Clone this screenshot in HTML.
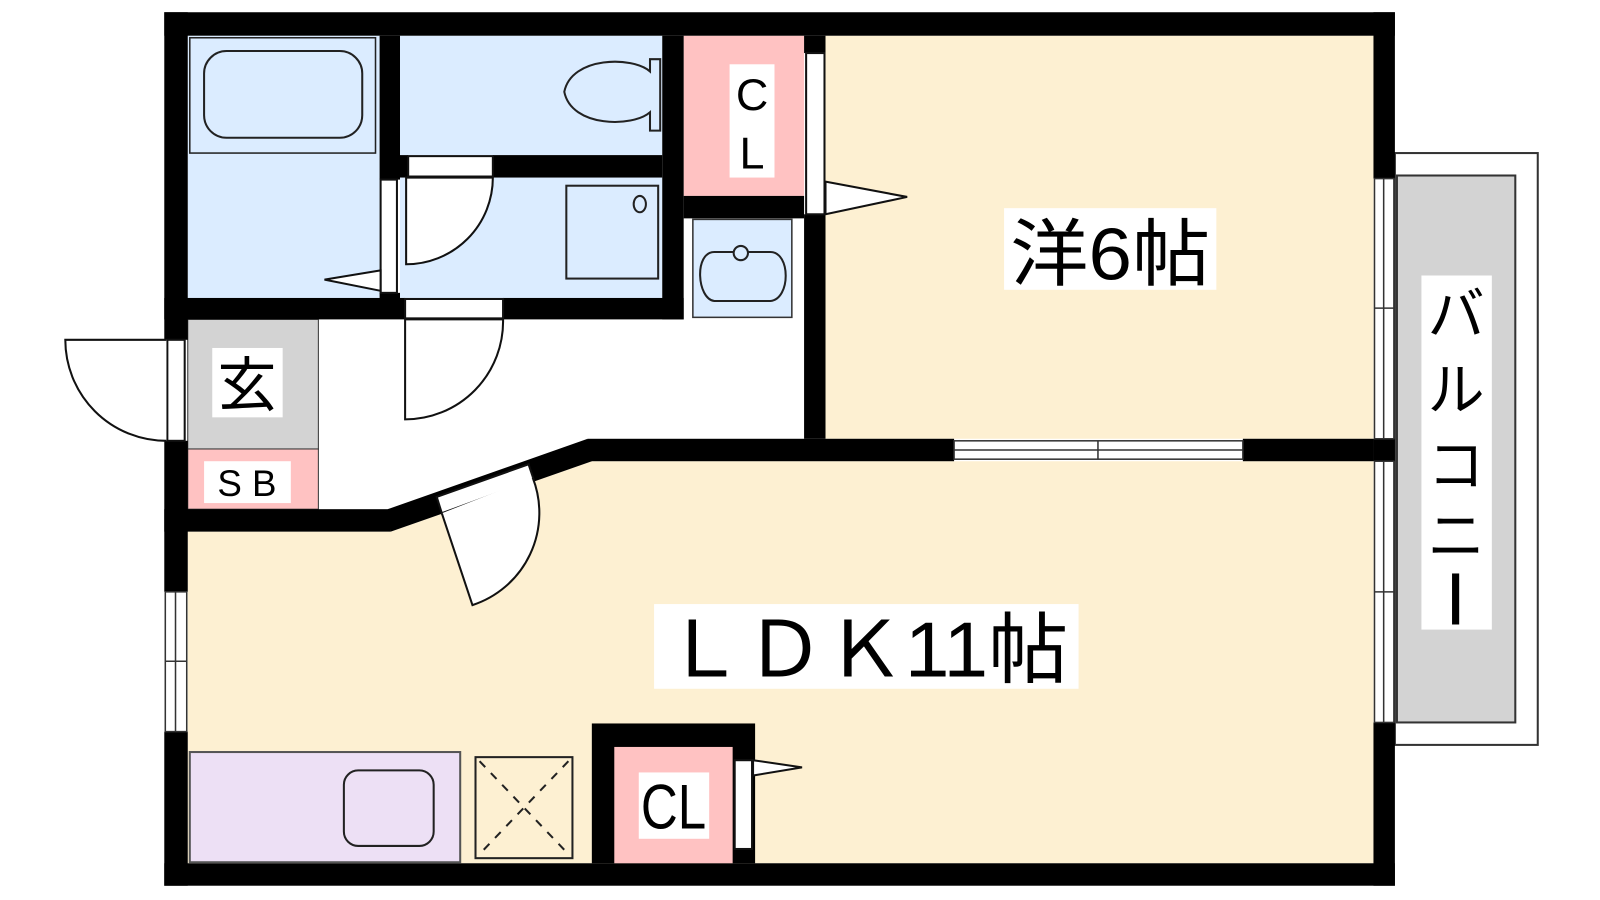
<!DOCTYPE html>
<html><head><meta charset="utf-8"><style>
html,body{margin:0;padding:0;background:#fff;}
svg{display:block;}
text{font-family:"Liberation Sans","Noto Sans CJK JP",sans-serif;}
</style></head><body>
<svg width="1600" height="900" viewBox="0 0 1568 882" preserveAspectRatio="none" xmlns="http://www.w3.org/2000/svg">
<rect width="1568" height="882" fill="#fff"/>
<!-- floors -->
<rect x="809" y="35" width="537" height="395" fill="#fdf0d2"/>
<polygon points="184,521 383,521 580,452 1346,452 1346,846 184,846" fill="#fdf0d2"/>
<rect x="184" y="35" width="188" height="257" fill="#dbecff"/>
<rect x="392" y="35" width="257" height="117" fill="#dbecff"/>
<rect x="392" y="174" width="257" height="118" fill="#dbecff"/>
<rect x="670" y="35" width="118" height="157" fill="#ffc2c2"/>
<rect x="679" y="215" width="97" height="96" fill="#dbecff" stroke="#333" stroke-width="1.5"/>
<rect x="184" y="313" width="128" height="127" fill="#d3d3d3" stroke="#333" stroke-width="1"/>
<rect x="184" y="440" width="128" height="59" fill="#ffc2c2" stroke="#333" stroke-width="1"/>
<!-- balcony -->
<rect x="1367" y="150" width="140" height="580" fill="#fff" stroke="#333" stroke-width="2"/>
<rect x="1369" y="172" width="116" height="536" fill="#d3d3d3" stroke="#333" stroke-width="2"/>
<rect x="1393" y="270" width="69" height="347" fill="#fff"/>
<text x="1427" y="328" font-size="56" text-anchor="middle">バ</text>
<text x="1427" y="402" font-size="56" text-anchor="middle">ル</text>
<text x="1427" y="476" font-size="56" text-anchor="middle">コ</text>
<text x="1427" y="545" font-size="56" text-anchor="middle">ニ</text>
<rect x="1423" y="562" width="7" height="50" fill="#000"/>
<!-- walls -->
<g fill="#000">
<rect x="161" y="12" width="1206" height="23"/>
<rect x="161" y="846" width="1206" height="22"/>
<rect x="161" y="12" width="23" height="321"/>
<rect x="161" y="432" width="23" height="148"/>
<rect x="161" y="717" width="23" height="151"/>
<rect x="1346" y="12" width="21" height="163"/>
<rect x="1346" y="708" width="21" height="160"/>
<rect x="1346" y="430" width="21" height="22"/>
<rect x="372" y="35" width="20" height="141"/>
<rect x="372" y="287" width="20" height="10"/>
<rect x="649" y="35" width="21" height="278"/>
<rect x="392" y="152" width="8" height="22"/>
<rect x="483" y="152" width="166" height="22"/>
<rect x="161" y="292" width="236" height="21"/>
<rect x="493" y="292" width="177" height="21"/>
<rect x="670" y="192" width="118" height="22"/>
<rect x="788" y="35" width="21" height="17"/>
<rect x="788" y="210" width="21" height="220"/>
<rect x="576" y="430" width="359" height="22"/>
<rect x="1218" y="430" width="128" height="22"/>
<rect x="161" y="499" width="222" height="22"/>
<polygon points="380,499 576,430 580,452 383,521"/>
<rect x="580" y="709" width="160" height="137"/>
</g>
<rect x="602" y="732" width="116" height="114" fill="#ffc2c2"/>
<!-- windows -->
<g fill="#fff" stroke="#333" stroke-width="1.5">
<rect x="1347" y="175" width="19" height="255"/>
<line x1="1356" y1="175" x2="1356" y2="430"/>
<line x1="1347" y1="302" x2="1366" y2="302"/>
<rect x="1347" y="452" width="19" height="256"/>
<line x1="1356" y1="452" x2="1356" y2="708"/>
<line x1="1347" y1="580" x2="1366" y2="580"/>
<rect x="162" y="580" width="21" height="137"/>
<line x1="172" y1="580" x2="172" y2="717"/>
<line x1="162" y1="648" x2="183" y2="648"/>
<rect x="935" y="432" width="283" height="18"/>
<line x1="935" y1="441" x2="1218" y2="441"/>
<line x1="1076" y1="432" x2="1076" y2="450"/>
</g>
<!-- doors -->
<g fill="#fff" stroke="#111" stroke-width="2">
<rect x="164" y="333" width="17" height="99"/>
<path d="M163,333 L64,333 A99,99 0 0 0 163,432"/>
<rect x="373" y="176" width="16" height="111"/>
<polygon points="373,265 318,274 373,285"/>
<rect x="400" y="153" width="83" height="20"/>
<path d="M398,174 L398,259 A85,85 0 0 0 483,174 Z"/>
<rect x="397" y="293" width="96" height="19"/>
<path d="M397,313 L397,411 A96,96 0 0 0 493,313 Z"/>
<rect x="790" y="52" width="18" height="158"/>
<polygon points="809,178 889,193 809,210"/>
<polygon points="428,487 518,455 523,470 433,503"/>
<path d="M433,503 L463,593 A95,95 0 0 0 522,468"/>
<rect x="720" y="745" width="17" height="87"/>
<polygon points="738,745 786,752 738,760"/>
</g>
<!-- fixtures -->
<g fill="none" stroke="#222" stroke-width="2">
<rect x="186" y="37" width="182" height="113" fill="#dbecff" stroke-width="1.5"/>
<rect x="200" y="50" width="155" height="85" rx="22"/>
<path d="M637,58 L637,70 C620,55 560,55 553,90 C560,125 620,125 637,110 L637,128 L647,128 L647,58 Z"/>
<rect x="555" y="182" width="90" height="91"/>
<ellipse cx="627" cy="200" rx="6" ry="8"/>
<path d="M700,247 C680,247 683,293 700,295 L755,295 C775,293 775,247 755,247 Z"/>
<circle cx="726" cy="248" r="7" fill="#dbecff"/>
<rect x="186" y="737" width="265" height="108" fill="#ede0f5" stroke="#555"/>
<rect x="337" y="755" width="88" height="74" rx="14"/>
<rect x="466" y="742" width="95" height="99"/>
<path d="M470,746 L557,837 M557,746 L470,837" stroke-dasharray="8,8"/>
</g>
<!-- labels -->
<rect x="715" y="63" width="44" height="111" fill="#fff"/>
<text x="737" y="108" font-size="44" text-anchor="middle">C</text>
<text x="737" y="165" font-size="44" text-anchor="middle">L</text>
<rect x="208" y="341" width="69" height="68" fill="#fff"/>
<text x="242" y="398" font-size="58" text-anchor="middle">玄</text>
<rect x="200" y="452" width="85" height="41" fill="#fff"/>
<text x="242" y="486" font-size="36" text-anchor="middle">S B</text>
<rect x="984" y="204" width="208" height="80" fill="#fff"/>
<text x="1088" y="274" font-size="72" text-anchor="middle" textLength="196" lengthAdjust="spacingAndGlyphs">洋6帖</text>
<rect x="641" y="592" width="416" height="83" fill="#fff"/>
<text x="849" y="663" font-size="76" text-anchor="middle" textLength="396" lengthAdjust="spacingAndGlyphs">ＬＤＫ11帖</text>
<rect x="626" y="757" width="69" height="65" fill="#fff"/>
<text x="660" y="812" font-size="62" text-anchor="middle" textLength="64" lengthAdjust="spacingAndGlyphs">CL</text>
</svg>
</body></html>
